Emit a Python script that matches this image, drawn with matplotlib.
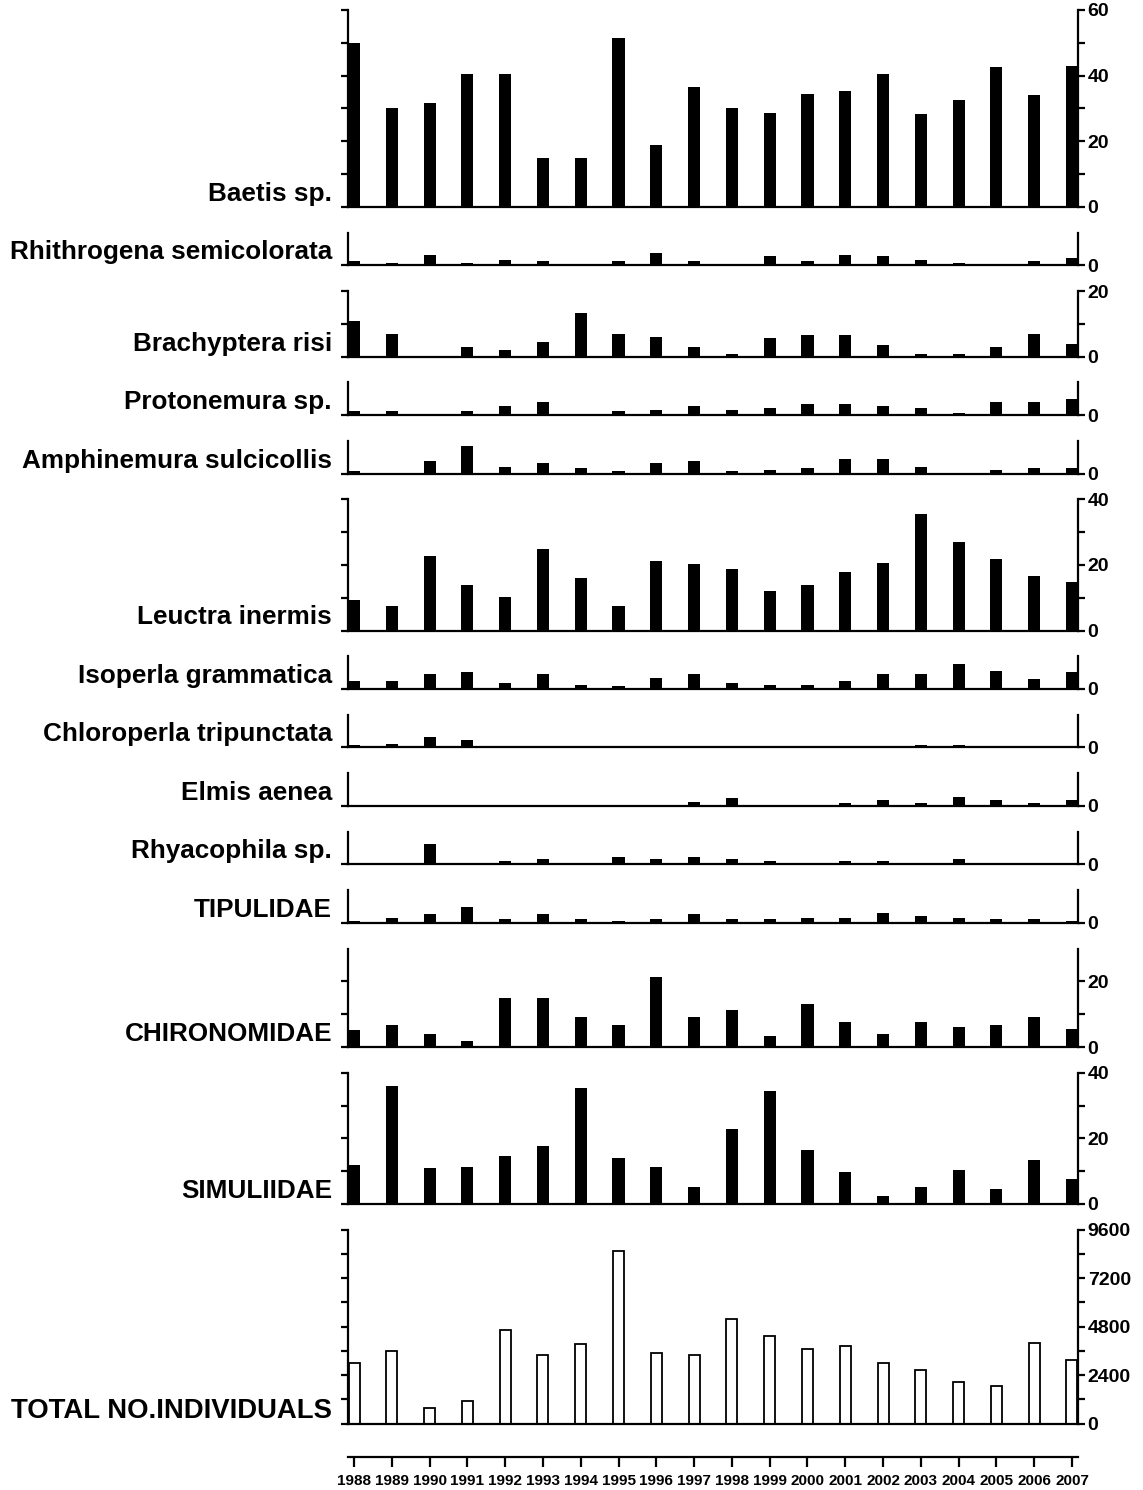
import matplotlib.pyplot as plt
import numpy as np

plt.rcParams['font.family'] = ['Liberation Sans', 'DejaVu Sans']
plt.rcParams['font.weight'] = 'bold'

years = list(range(1988, 2008))

baetis = [50, 30, 31.5, 40.5, 40.5, 15, 15, 51.5, 18.7, 36.5,
          30, 28.7, 34.5, 35.3, 40.5, 28.2, 32.5, 42.5, 34, 43]
rhithrogena = [1.2, 0.7, 3.2, 0.7, 1.7, 1.2, 0, 1.2, 3.7, 1.2,
               0, 2.8, 1.2, 3.2, 2.8, 1.7, 0.7, 0, 1.2, 2.2]
brachyptera = [10.9, 7.0, 0, 2.9, 1.9, 4.6, 13.4, 7.0, 6.1, 2.9,
               0.8, 5.6, 6.6, 6.6, 3.5, 0.8, 0.8, 2.9, 7.0, 3.9]
protonemura = [1.2, 1.2, 0, 1.2, 2.8, 3.9, 0, 1.2, 1.7, 2.8,
               1.7, 2.3, 3.3, 3.3, 2.8, 2.3, 0.7, 3.9, 3.9, 4.9]
amphinemura = [0.7, 0, 3.9, 8.5, 2.1, 3.3, 1.6, 0.7, 3.3, 3.9,
               0.7, 1.2, 1.6, 4.4, 4.4, 2.1, 0, 1.2, 1.6, 1.6]
leuctra = [9.3, 7.6, 22.8, 13.8, 10.3, 24.9, 16.0, 7.6, 21.3, 20.2,
           18.7, 11.9, 13.8, 17.7, 20.7, 35.4, 27.1, 21.7, 16.5, 14.9]
isoperla = [2.4, 2.4, 4.5, 5.1, 1.9, 4.5, 1.3, 0.9, 3.4, 4.5,
            1.9, 1.3, 1.3, 2.4, 4.5, 4.5, 7.7, 5.6, 2.9, 5.1]
chloroperla = [0.7, 1.2, 3.3, 2.2, 0, 0, 0, 0, 0, 0,
               0, 0, 0, 0, 0, 0.7, 0.7, 0, 0, 0]
elmis = [0, 0, 0, 0, 0, 0, 0, 0, 0, 1.3,
         2.4, 0, 0, 0.8, 1.9, 0.8, 2.8, 1.9, 0.8, 1.9]
rhyacophila = [0, 0, 6.4, 0, 1.1, 1.7, 0, 2.2, 1.7, 2.2,
               1.7, 1.1, 0.6, 1.1, 1.1, 0, 1.7, 0.6, 0, 0]
tipulidae = [0.6, 1.6, 2.6, 4.8, 1.1, 2.6, 1.1, 0.6, 1.1, 2.6,
             1.1, 1.1, 1.6, 1.6, 3.2, 2.1, 1.6, 1.1, 1.1, 0.6]
chironomidae = [5.1, 6.6, 3.9, 1.9, 15.1, 15.1, 9.2, 6.6, 21.5, 9.2,
                11.4, 3.4, 13.0, 7.7, 3.9, 7.7, 6.1, 6.6, 9.2, 5.5]
simuliidae = [11.9, 36.0, 10.9, 11.4, 14.5, 17.7, 35.5, 14.0, 11.4, 5.1,
              22.8, 34.5, 16.6, 9.8, 2.4, 5.1, 10.4, 4.6, 13.5, 7.7]
total = [2985, 3580, 760, 1105, 4620, 3415, 3925, 8530, 3500, 3415,
         5195, 4355, 3680, 3845, 2985, 2640, 2045, 1880, 4010, 3150]

# label, values, ymax, tick positions, labelled ticks
panels = [
    ('Baetis sp.', baetis, 60, [0, 10, 20, 30, 40, 50, 60], [0, 20, 40, 60]),
    ('Rhithrogena semicolorata', rhithrogena, 10, [0], [0]),
    ('Brachyptera risi', brachyptera, 20, [0, 10, 20], [0, 20]),
    ('Protonemura sp.', protonemura, 10, [0], [0]),
    ('Amphinemura sulcicollis', amphinemura, 10, [0], [0]),
    ('Leuctra inermis', leuctra, 40, [0, 10, 20, 30, 40], [0, 20, 40]),
    ('Isoperla grammatica', isoperla, 10, [0], [0]),
    ('Chloroperla tripunctata', chloroperla, 10, [0], [0]),
    ('Elmis aenea', elmis, 10, [0], [0]),
    ('Rhyacophila sp.', rhyacophila, 10, [0], [0]),
    ('TIPULIDAE', tipulidae, 10, [0], [0]),
    ('CHIRONOMIDAE', chironomidae, 30, [0, 10, 20], [0, 20]),
    ('SIMULIIDAE', simuliidae, 40, [0, 10, 20, 30, 40], [0, 20, 40]),
]

W, H = 1143, 1490
left, right = 348, 1078
scale = 3.28      # pixels per unit for the taxon panels
gap = 25.7
lw = 1.6
label_size = 18.8

fig = plt.figure(figsize=(W / 100, H / 100), dpi=100)


def style_axis(ax, ymax, ticks, labelled):
    ax.set_xlim(years[0] - 0.16, years[-1] + 0.16)
    ax.set_ylim(0, ymax)
    ax.spines['top'].set_visible(False)
    for s in ['left', 'right', 'bottom']:
        ax.spines[s].set_linewidth(lw)
    ax.set_xticks([])
    ax.set_yticks(ticks)
    ax.set_yticklabels([str(t) if t in labelled else '' for t in ticks])
    ax.yaxis.set_ticks_position('both')
    ax.tick_params(axis='y', direction='out', length=5, width=lw,
                   labelleft=False, labelright=True, labelsize=14, pad=2)
    ax.patch.set_visible(False)


top = 10
for label, vals, ymax, ticks, labelled in panels:
    h = ymax * scale
    zero = top + h
    ax = fig.add_axes([left / W, 1 - zero / H, (right - left) / W, h / H])
    ax.bar(years, vals, width=0.32, color='black')
    style_axis(ax, ymax, ticks, labelled)
    fig.text(332 / W, 1 - (zero - 13) / H, label, ha='right', va='center',
             fontsize=label_size, fontweight='bold')
    top = zero + gap

# total number of individuals
h = 194
zero = top + h
ax = fig.add_axes([left / W, 1 - zero / H, (right - left) / W, h / H])
ax.bar(years, total, width=0.29, facecolor='white', edgecolor='black', linewidth=1.3)
style_axis(ax, 9600, list(range(0, 9601, 1200)), [0, 2400, 4800, 7200, 9600])
fig.text(332 / W, 1 - (zero - 13) / H, 'TOTAL NO.INDIVIDUALS', ha='right',
         va='center', fontsize=label_size + 1.0, fontweight='bold')

# year axis
ax = fig.add_axes([left / W, 1 - 1457 / H, (right - left) / W, 0.0005])
ax.set_xlim(years[0] - 0.16, years[-1] + 0.16)
for s in ['left', 'right', 'top']:
    ax.spines[s].set_visible(False)
ax.spines['bottom'].set_linewidth(lw)
ax.set_yticks([])
ax.set_xticks(years)
ax.set_xticklabels([str(y) for y in years])
ax.tick_params(axis='x', direction='out', length=7, width=lw, labelsize=11, pad=5)
ax.patch.set_visible(False)

fig.savefig('out.png', dpi=100)
